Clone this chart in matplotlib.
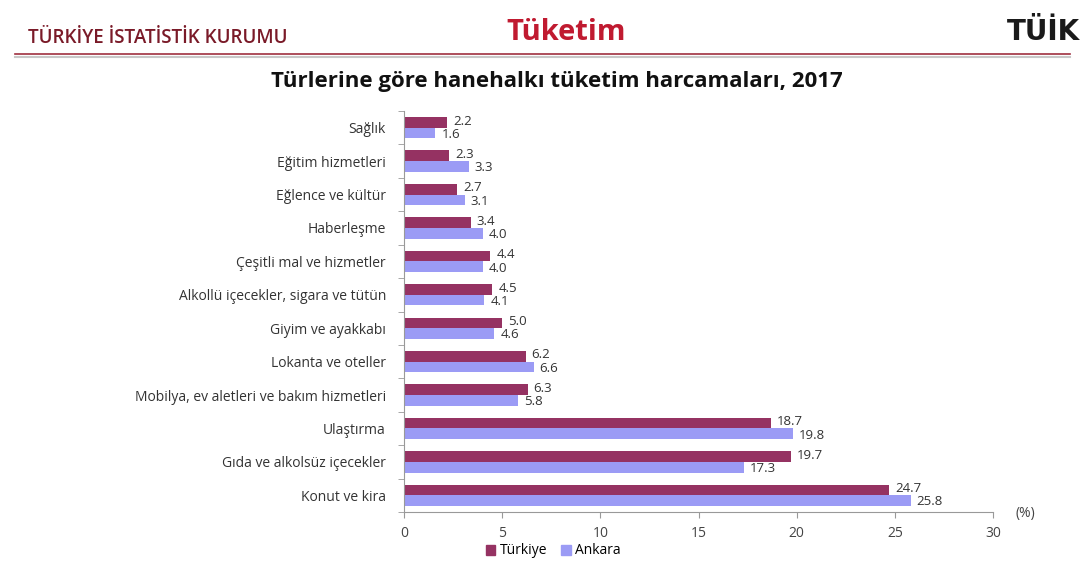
import matplotlib.pyplot as plt
import numpy as np
from matplotlib.lines import Line2D

categories = ["Sağlık", "Eğitim hizmetleri", "Eğlence ve kültür", "Haberleşme",
              "Çeşitli mal ve hizmetler", "Alkollü içecekler, sigara ve tütün",
              "Giyim ve ayakkabı", "Lokanta ve oteller",
              "Mobilya, ev aletleri ve bakım hizmetleri", "Ulaştırma",
              "Gıda ve alkolsüz içecekler", "Konut ve kira"]
turkiye = [2.2, 2.3, 2.7, 3.4, 4.4, 4.5, 5.0, 6.2, 6.3, 18.7, 19.7, 24.7]
ankara = [1.6, 3.3, 3.1, 4.0, 4.0, 4.1, 4.6, 6.6, 5.8, 19.8, 17.3, 25.8]
xticks = [0, 5, 10, 15, 20, 25, 30]

c_tr = "#953262"
c_an = "#9b9bf5"

plt.rcParams['font.family'] = ['Open Sans', 'DejaVu Sans']
fig = plt.figure(figsize=(10.9, 5.63), dpi=100)
ax = fig.add_axes([404/1090, 1-512/563, (993-404)/1090, (512-111)/563])

n = len(categories)
y = np.arange(n)
h = 0.32
ax.barh(y - h/2, turkiye, height=h, color=c_tr, label="Türkiye")
ax.barh(y + h/2, ankara, height=h, color=c_an, label="Ankara")
for i in range(n):
    ax.text(turkiye[i] + 0.3, y[i] - 0.2, f"{turkiye[i]:.1f}", fontsize=9.5,
            color="#333333", va="center", ha="left")
    ax.text(ankara[i] + 0.3, y[i] + 0.2, f"{ankara[i]:.1f}", fontsize=9.5,
            color="#333333", va="center", ha="left")

ax.set_ylim(n - 0.5, -0.5)
ax.set_xlim(0, 30)
ax.set_yticks(y)
ax.set_yticklabels(categories, fontsize=10, color="#333333")
ax.set_yticks(np.arange(-0.5, n, 1), minor=True)
ax.tick_params(axis='y', which='major', length=0, pad=13)
ax.tick_params(axis='y', which='minor', length=4, color="#999999")
ax.set_xticks(xticks)
ax.set_xticklabels([str(v) for v in xticks], fontsize=10, color="#444444")
ax.tick_params(axis='x', length=4, color="#999999", pad=6)
for s in ['top', 'right']:
    ax.spines[s].set_visible(False)
for s in ['left', 'bottom']:
    ax.spines[s].set_color("#999999")

fig.text(1015/1090, 1-514/563, "(%)", fontsize=10, color="#444444", ha="left", va="center")

handles = [plt.Rectangle((0, 0), 1, 1, color=c_tr), plt.Rectangle((0, 0), 1, 1, color=c_an)]
fig.legend(handles, ["Türkiye", "Ankara"], loc="center", bbox_to_anchor=(553/1090, 1-551/563),
           ncol=2, frameon=False, fontsize=10, handlelength=0.7, handleheight=0.7,
           handletextpad=0.3, columnspacing=1.0)

fig.text(557/1090, 1-82/563, "Türlerine göre hanehalkı tüketim harcamaları, 2017",
         fontsize=16, fontweight='bold', color="#111111", ha="center", va="center")

# header
fig.text(28/1090, 1-38/563, "TÜRKİYE İSTATİSTİK KURUMU", fontsize=13.5,
         fontweight='semibold', color="#7a1a28", ha="left", va="center")
fig.text(566/1090, 1-33/563, "Tüketim", fontsize=21, fontweight='bold',
         color="#c01a30", ha="center", va="center")
fig.text(1080/1090, 1-32/563, "TÜİK", fontsize=20, fontweight='bold',
         color="#1a1a1a", ha="right", va="center", family=['DejaVu Sans Condensed', 'DejaVu Sans'])
fig.add_artist(Line2D([15/1090, 1070/1090], [1-54/563, 1-54/563], color="#a03040", lw=1.2))
fig.add_artist(Line2D([15/1090, 1070/1090], [1-56.5/563, 1-56.5/563], color="#c8c8c8", lw=1.5))

fig.savefig("out.png", dpi=100)
